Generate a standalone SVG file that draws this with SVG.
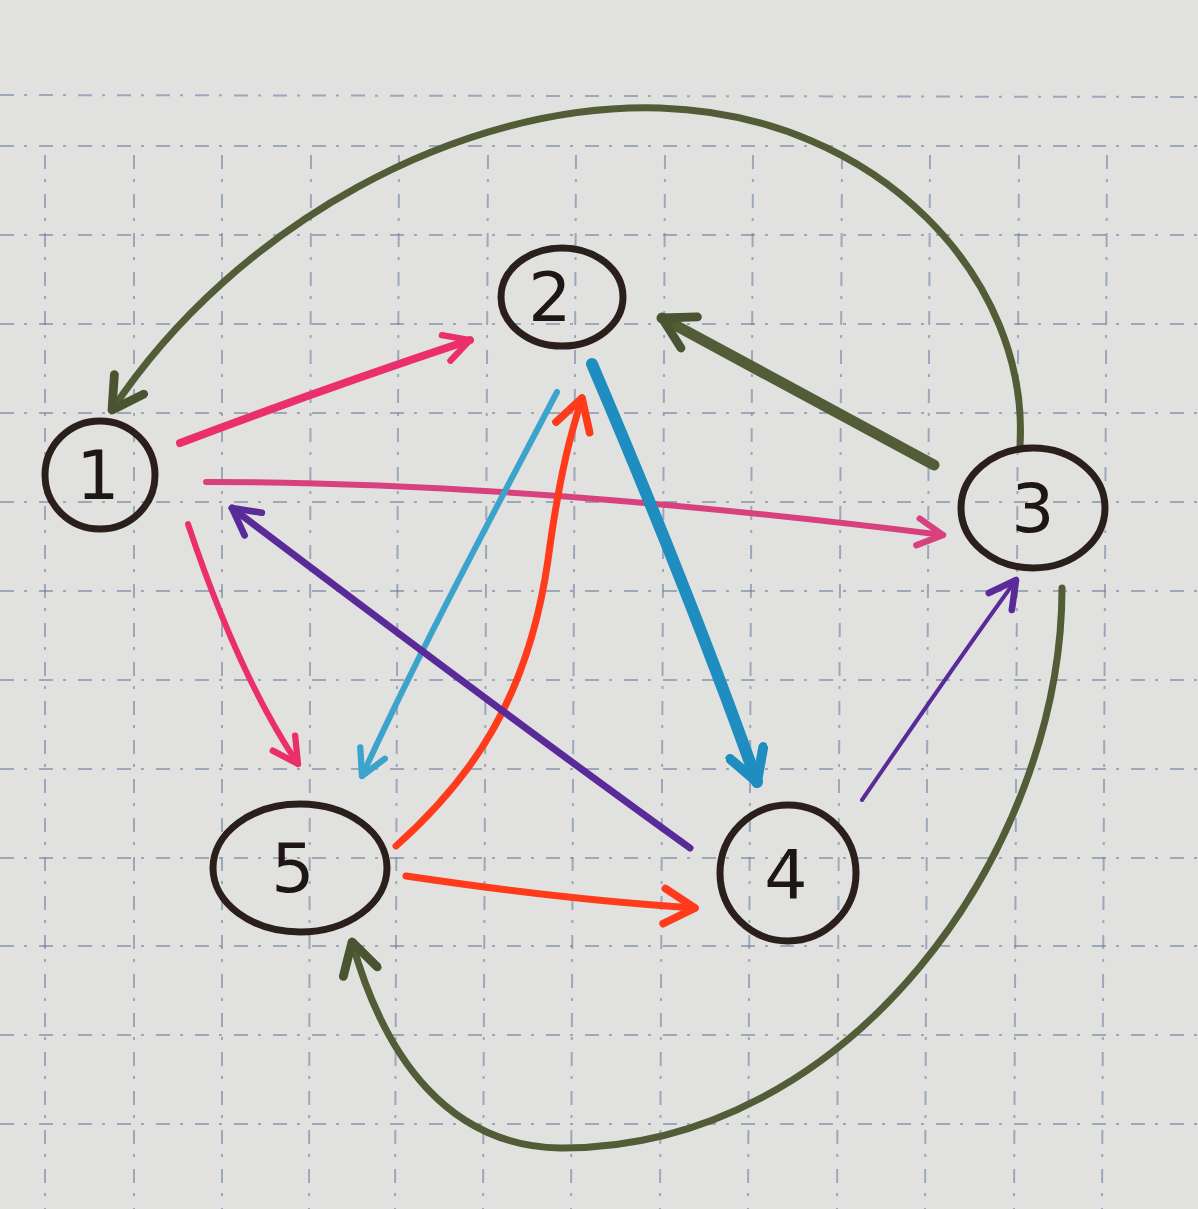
<svg xmlns="http://www.w3.org/2000/svg" width="1198" height="1209" viewBox="0 0 1198 1209">
<style>
.grid line{stroke:#6f80a0;stroke-width:2;stroke-dasharray:14 10 3 12;opacity:.6}
.node ellipse{fill:none;stroke:#2b1f1b;stroke-width:7}
.node text{font-family:"DejaVu Sans","Liberation Sans",sans-serif;font-size:68px;fill:#1e1614;text-anchor:middle;dominant-baseline:central}
.e{fill:none;stroke-linecap:round;stroke-linejoin:round}
.olive{stroke:#525c36}
.pink{stroke:#ea2f6c}
.mag{stroke:#d8407e}
.blue{stroke:#1f8dc0}
.lblue{stroke:#3ba3cc}
.red{stroke:#ff3b1c}
.purple{stroke:#5a2b98}
</style>
<defs>
<marker id="a-olive" viewBox="0 0 40 40" refX="34" refY="20" markerWidth="44" markerHeight="44" markerUnits="userSpaceOnUse" orient="auto"><path d="M6,4 L34,20 L6,36" fill="none" stroke="#4a5430" stroke-width="8" stroke-linecap="round" stroke-linejoin="round"/></marker>
<marker id="a-pink" viewBox="0 0 40 40" refX="34" refY="20" markerWidth="36" markerHeight="36" markerUnits="userSpaceOnUse" orient="auto"><path d="M6,5 L34,20 L6,35" fill="none" stroke="#ea2f6c" stroke-width="7" stroke-linecap="round" stroke-linejoin="round"/></marker>
<marker id="a-mag" viewBox="0 0 40 40" refX="34" refY="20" markerWidth="36" markerHeight="36" markerUnits="userSpaceOnUse" orient="auto"><path d="M6,5 L34,20 L6,35" fill="none" stroke="#d8407e" stroke-width="7" stroke-linecap="round" stroke-linejoin="round"/></marker>
<marker id="a-blue" viewBox="0 0 40 40" refX="34" refY="20" markerWidth="44" markerHeight="44" markerUnits="userSpaceOnUse" orient="auto"><path d="M6,4 L34,20 L6,36" fill="none" stroke="#1f8dc0" stroke-width="9" stroke-linecap="round" stroke-linejoin="round"/></marker>
<marker id="a-lblue" viewBox="0 0 40 40" refX="34" refY="20" markerWidth="36" markerHeight="36" markerUnits="userSpaceOnUse" orient="auto"><path d="M6,5 L34,20 L6,35" fill="none" stroke="#3ba3cc" stroke-width="7" stroke-linecap="round" stroke-linejoin="round"/></marker>
<marker id="a-red" viewBox="0 0 40 40" refX="34" refY="20" markerWidth="44" markerHeight="44" markerUnits="userSpaceOnUse" orient="auto"><path d="M6,4 L34,20 L6,36" fill="none" stroke="#ff3b1c" stroke-width="7" stroke-linecap="round" stroke-linejoin="round"/></marker>
<marker id="a-purple" viewBox="0 0 40 40" refX="34" refY="20" markerWidth="38" markerHeight="38" markerUnits="userSpaceOnUse" orient="auto"><path d="M6,5 L34,20 L6,35" fill="none" stroke="#5a2b98" stroke-width="7" stroke-linecap="round" stroke-linejoin="round"/></marker>
</defs>
<rect width="1198" height="1209" fill="#e1e2e0"/>
<g class="grid">
<line x1="0" y1="95" x2="1198" y2="97"/>
<line x1="45" y1="155" x2="45" y2="1209"/>
<line x1="134" y1="155" x2="134" y2="1209"/>
<line x1="222" y1="155" x2="222" y2="1209"/>
<line x1="311" y1="155" x2="309" y2="1209"/>
<line x1="399" y1="155" x2="395" y2="1209"/>
<line x1="488" y1="155" x2="483" y2="1209"/>
<line x1="576" y1="155" x2="571" y2="1209"/>
<line x1="665" y1="155" x2="660" y2="1209"/>
<line x1="753" y1="155" x2="748" y2="1209"/>
<line x1="842" y1="155" x2="837" y2="1209"/>
<line x1="930" y1="155" x2="925" y2="1209"/>
<line x1="1019" y1="155" x2="1014" y2="1209"/>
<line x1="1107" y1="155" x2="1102" y2="1209"/>
<line x1="0" y1="146" x2="1198" y2="146"/>
<line x1="0" y1="235" x2="1198" y2="235"/>
<line x1="0" y1="324" x2="1198" y2="324"/>
<line x1="0" y1="413" x2="1198" y2="413"/>
<line x1="0" y1="502" x2="1198" y2="502"/>
<line x1="0" y1="591" x2="1198" y2="591"/>
<line x1="0" y1="680" x2="1198" y2="680"/>
<line x1="0" y1="769" x2="1198" y2="769"/>
<line x1="0" y1="858" x2="1198" y2="858"/>
<line x1="0" y1="946" x2="1198" y2="946"/>
<line x1="0" y1="1035" x2="1198" y2="1035"/>
<line x1="0" y1="1124" x2="1198" y2="1124"/>
</g>
<g id="connectors">
<path class="e olive" stroke-width="7" d="M1020,446 C1030,280 880,115 660,108 C460,102 235,225 112,410" marker-end="url(#a-olive)"/>
<path class="e pink" stroke-width="8" d="M180,443 C280,405 380,370 470,340" marker-end="url(#a-pink)"/>
<path class="e mag" stroke-width="6" d="M206,482 C450,482 700,505 943,535" marker-end="url(#a-mag)"/>
<path class="e pink" stroke-width="6" d="M188,524 C220,620 255,700 298,764" marker-end="url(#a-pink)"/>
<path class="e olive" stroke-width="11" d="M934,465 C850,420 760,370 662,318" marker-end="url(#a-olive)"/>
<path class="e blue" stroke-width="12" d="M592,364 C650,500 710,650 757,782" marker-end="url(#a-blue)"/>
<path class="e lblue" stroke-width="6" d="M557,392 C490,520 420,650 362,776" marker-end="url(#a-lblue)"/>
<path class="e red" stroke-width="7" d="M396,846 C470,780 528,700 548,560 C560,470 572,430 582,398" marker-end="url(#a-red)"/>
<path class="e purple" stroke-width="7" d="M690,848 C540,740 380,620 232,508" marker-end="url(#a-purple)"/>
<path class="e purple" stroke-width="4" d="M862,800 C910,730 965,650 1016,580" marker-end="url(#a-purple)"/>
<path class="e red" stroke-width="7" d="M406,876 C500,890 600,902 695,908" marker-end="url(#a-red)"/>
<path class="e olive" stroke-width="7" d="M1062,588 C1062,850 850,1150 560,1148 C450,1146 385,1060 352,942" marker-end="url(#a-olive)"/>
</g>
<g id="node1" class="node"><ellipse cx="100" cy="475" rx="55" ry="54"/><text x="98" y="475">1</text></g>
<g id="node2" class="node"><ellipse cx="562" cy="297" rx="61" ry="49"/><text x="550" y="297">2</text></g>
<g id="node3" class="node"><ellipse cx="1033" cy="508" rx="72" ry="60"/><text x="1033" y="508">3</text></g>
<g id="node4" class="node"><ellipse cx="788" cy="873" rx="68" ry="68"/><text x="786" y="875">4</text></g>
<g id="node5" class="node"><ellipse cx="300" cy="868" rx="87" ry="64"/><text x="293" y="868">5</text></g>
</svg>
